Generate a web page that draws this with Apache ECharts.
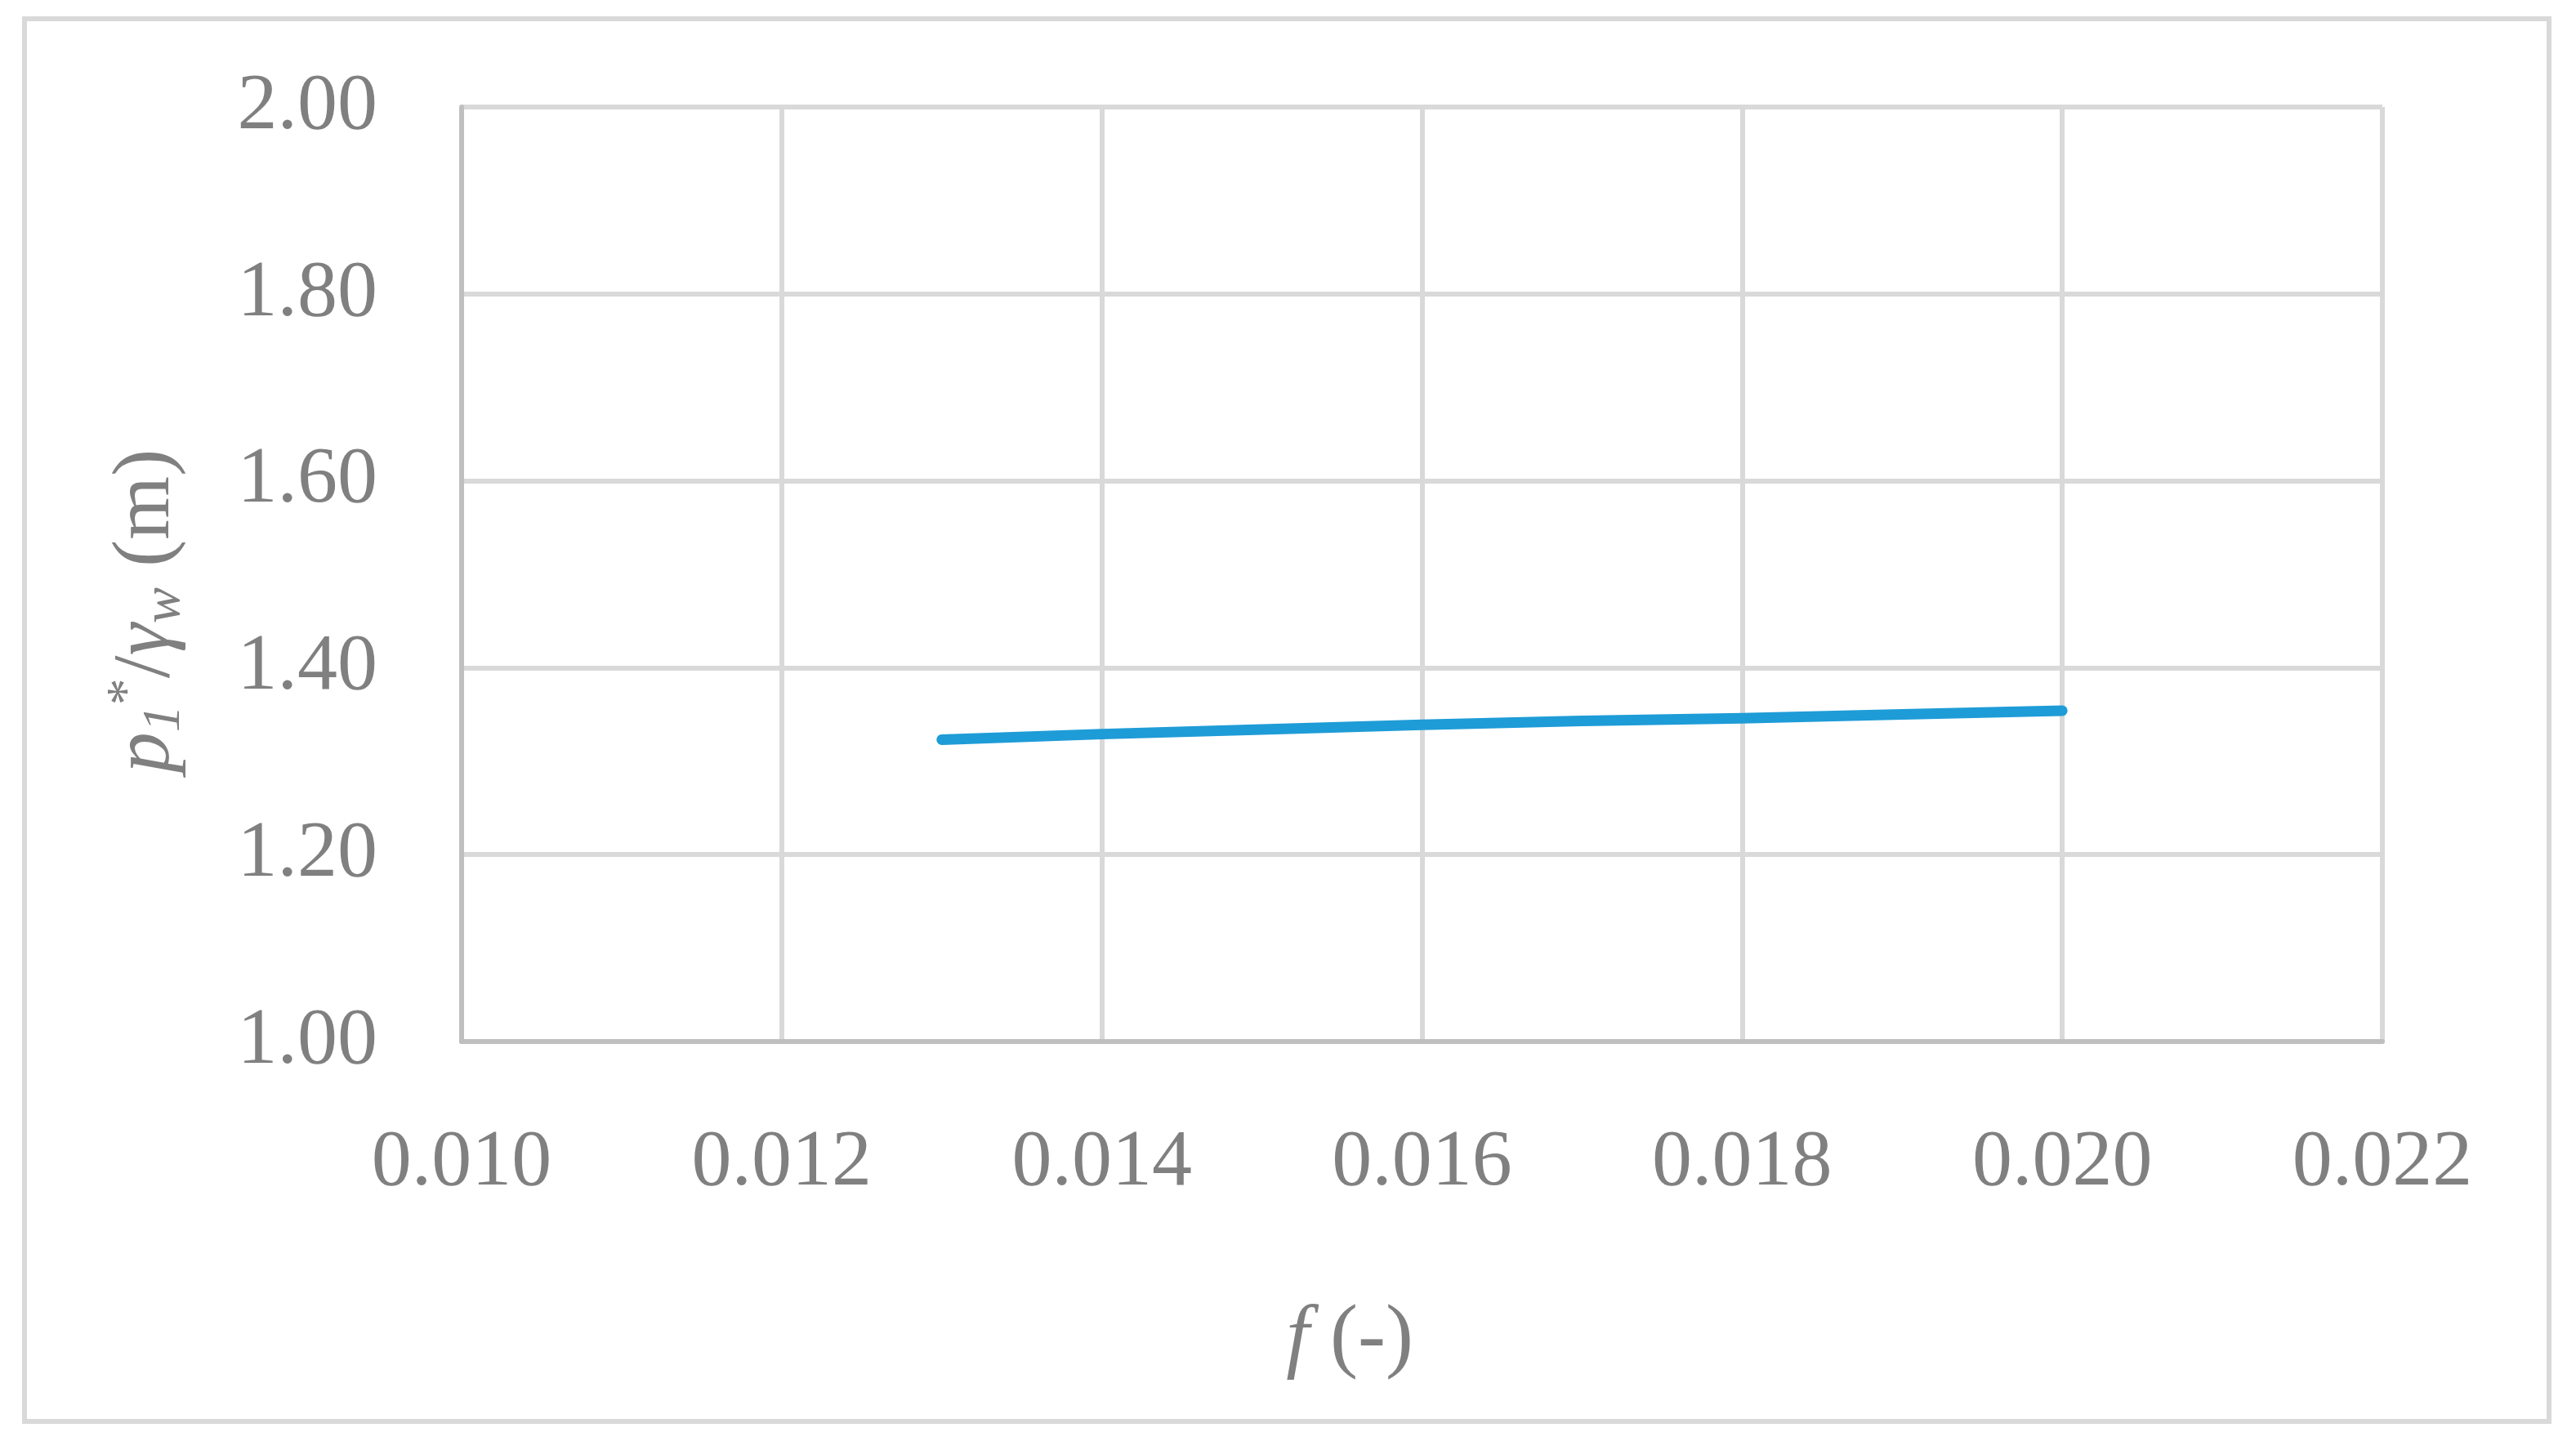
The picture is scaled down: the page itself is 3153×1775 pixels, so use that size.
<!DOCTYPE html>
<html>
<head>
<meta charset="utf-8">
<script src="https://cdn.jsdelivr.net/npm/echarts@6/dist/echarts.min.js"></script>
<style>
  html, body { margin: 0; padding: 0; background: #ffffff; }
  #chart { width: 3153px; height: 1775px; }
</style>
</head>
<body>
<div id="chart"></div>
<script>
// Data
const fValues = [0.013, 0.014, 0.015, 0.016, 0.017, 0.018, 0.019, 0.020];
const headValues = [1.323, 1.329, 1.334, 1.339, 1.343, 1.346, 1.350, 1.354];
const xTickMin = 0.010, xTickMax = 0.022, xTickStep = 0.002;
const yTickMin = 1.00, yTickMax = 2.00, yTickStep = 0.20;

const FONT = '"Liberation Serif", "DejaVu Serif", serif';
const TXT = '#808080';

const seriesData = fValues.map((f, i) => [f, headValues[i]]);

const chart = echarts.init(document.getElementById('chart'), null, { renderer: 'canvas' });
chart.setOption({
  backgroundColor: '#ffffff',
  animation: false,
  grid: { left: 565, right: 237, top: 131, bottom: 500, containLabel: false },
  xAxis: {
    type: 'value',
    min: xTickMin, max: xTickMax, interval: xTickStep,
    axisLine: { show: true, lineStyle: { color: '#bfbfbf', width: 6 } },
    axisTick: { show: false },
    splitLine: { show: true, lineStyle: { color: '#d9d9d9', width: 6 } },
    axisLabel: {
      color: TXT, fontFamily: FONT, fontSize: 98, margin: 100,
      formatter: v => v.toFixed(3)
    }
  },
  yAxis: {
    type: 'value',
    min: yTickMin, max: yTickMax, interval: yTickStep,
    axisLine: { show: true, lineStyle: { color: '#bfbfbf', width: 6 } },
    axisTick: { show: false },
    splitLine: { show: true, lineStyle: { color: '#d9d9d9', width: 6 } },
    axisLabel: {
      color: TXT, fontFamily: FONT, fontSize: 98, margin: 103,
      formatter: v => v.toFixed(2)
    }
  },
  series: [{
    type: 'line',
    data: seriesData,
    symbol: 'none',
    smooth: false,
    lineStyle: { color: '#1e9cd7', width: 13, cap: 'round', join: 'round' },
    z: 5
  }],
  graphic: [
    {
      type: 'rect', silent: true, z: -1,
      shape: { x: 30, y: 23, width: 3090, height: 1717 },
      style: { fill: 'none', stroke: '#d9d9d9', lineWidth: 6 }
    },
    {
      type: 'text', silent: true,
      x: 1652, y: 1640,
      style: {
        text: '{i|f}{n| (-)}',
        align: 'center', verticalAlign: 'middle',
        fill: TXT,
        rich: {
          i: { fontFamily: FONT, fontSize: 102, fontStyle: 'italic', fill: TXT },
          n: { fontFamily: FONT, fontSize: 102, fill: TXT }
        }
      }
    },
    {
      type: 'text', silent: true,
      x: 180, y: 748, rotation: Math.PI / 2,
      style: {
        text: '{i|p}{s|1}{sup|*}{n|/}{i|γ}{s|w}{n| (m)}',
        align: 'center', verticalAlign: 'middle',
        fill: TXT,
        rich: {
          i: { fontFamily: FONT, fontSize: 100, fontStyle: 'italic', fill: TXT, lineHeight: 110 },
          n: { fontFamily: FONT, fontSize: 100, fill: TXT, lineHeight: 110 },
          s: { fontFamily: FONT, fontSize: 66, fontStyle: 'italic', fill: TXT, lineHeight: 44, verticalAlign: 'bottom' },
          sup: { fontFamily: FONT, fontSize: 66, fill: TXT, lineHeight: 66, verticalAlign: 'top' }
        }
      }
    }
  ]
});
</script>
</body>
</html>
